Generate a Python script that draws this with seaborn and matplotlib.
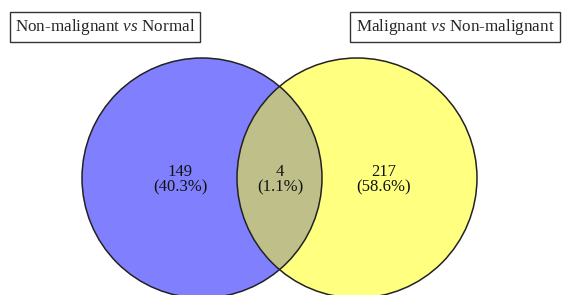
import matplotlib
matplotlib.use("Agg")
import matplotlib.pyplot as plt
import seaborn as sns
from matplotlib.patches import Circle

sns.set_style("white")
plt.rcParams['font.family'] = ['Liberation Serif', 'DejaVu Serif']
plt.rcParams['mathtext.fontset'] = 'custom'
plt.rcParams['mathtext.rm'] = 'Liberation Serif'
plt.rcParams['mathtext.it'] = 'Liberation Serif:italic'

# set names (left / right) and region values
set_names = ["Non-malignant", "Malignant"]
set_refs = ["Normal", "Non-malignant"]
region_counts = [149, 4, 217]
region_pcts = [40.3, 1.1, 58.6]

fig = plt.figure(figsize=(5.63, 2.95), dpi=100)
ax = fig.add_axes([0, 0, 1, 1])
ax.set_xlim(0, 563)
ax.set_ylim(295, 0)
ax.set_aspect("equal")
ax.axis("off")

r = 120
c_left = (202, 178)
c_right = (357, 178)

left = Circle(c_left, r, facecolor="#8080ff", edgecolor="none", zorder=1)
right = Circle(c_right, r, facecolor="#ffff80", edgecolor="none", zorder=1)
ax.add_patch(left)
ax.add_patch(right)

# overlap lens: right circle clipped to the left one
lens = Circle(c_right, r, facecolor="#bfbf8a", edgecolor="none", zorder=2)
ax.add_patch(lens)
lens.set_clip_path(left)
# outlines on top
for c in (c_left, c_right):
    ax.add_patch(Circle(c, r, facecolor="none", edgecolor="#222222", lw=1.1, zorder=3))

# region labels
xs = [180, 280, 384]
for x, n, p in zip(xs, region_counts, region_pcts):
    ax.text(x, 180, f"{n}\n({p}%)", ha="center", va="center", fontsize=12,
            linespacing=0.95, color="#111111", zorder=4)

# set title boxes
box = dict(boxstyle="square,pad=0.3", facecolor="white", edgecolor="#333333", lw=1.0)
ax.text(105, 27, f"{set_names[0]} $\\it{{vs}}$ {set_refs[0]}", ha="center", va="center",
        fontsize=12.3, bbox=box, zorder=5)
ax.text(455, 27, f"{set_names[1]} $\\it{{vs}}$ {set_refs[1]}", ha="center", va="center",
        fontsize=12.3, bbox=box, zorder=5)

fig.savefig("out.png", dpi=100)
